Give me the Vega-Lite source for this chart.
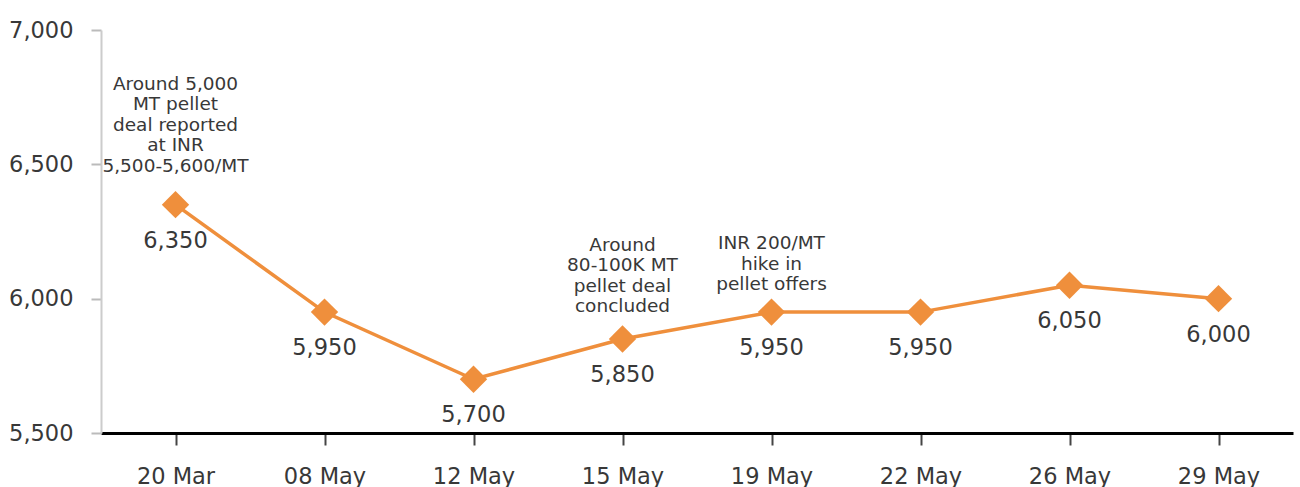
{
  "$schema": "https://vega.github.io/schema/vega-lite/v6.json",
  "autosize": "none",
  "width": 1192,
  "height": 403,
  "padding": {"left": 101, "top": 30, "right": 7, "bottom": 54},
  "background": "white",
  "config": {"view": {"stroke": null}, "font": "DejaVu Sans"},
  "data": {
    "values": [
      {"date": "20 Mar", "price": 6350, "note": "Around 5,000\nMT pellet\ndeal reported\nat INR\n5,500-5,600/MT"},
      {"date": "08 May", "price": 5950, "note": ""},
      {"date": "12 May", "price": 5700, "note": ""},
      {"date": "15 May", "price": 5850, "note": "Around\n80-100K MT\npellet deal\nconcluded"},
      {"date": "19 May", "price": 5950, "note": "INR 200/MT\nhike in\npellet offers"},
      {"date": "22 May", "price": 5950, "note": ""},
      {"date": "26 May", "price": 6050, "note": ""},
      {"date": "29 May", "price": 6000, "note": ""}
    ]
  },
  "encoding": {
    "x": {
      "field": "date",
      "type": "ordinal",
      "sort": null,
      "scale": {"type": "point", "padding": 0.5},
      "axis": {
        "title": null,
        "labelAngle": 0,
        "domainColor": "black",
        "domainWidth": 3,
        "tickColor": "#444",
        "tickWidth": 2,
        "tickSize": 12,
        "labelFontSize": 22.5,
        "labelColor": "#383838",
        "labelPadding": 20
      }
    },
    "y": {
      "field": "price",
      "type": "quantitative",
      "scale": {"domain": [5500, 7000], "nice": false, "zero": false},
      "axis": {
        "title": null,
        "grid": false,
        "values": [5500, 6000, 6500, 7000],
        "format": ",.0f",
        "domainColor": "#cccccc",
        "domainWidth": 2,
        "tickColor": "#bbbbbb",
        "tickWidth": 2,
        "tickSize": 10,
        "labelFontSize": 22.5,
        "labelColor": "#383838",
        "labelPadding": 18
      }
    }
  },
  "layer": [
    {"mark": {"type": "line", "color": "#EF8F3C", "strokeWidth": 3.5}},
    {"mark": {"type": "point", "shape": "diamond", "filled": true, "size": 750, "color": "#EF8F3C", "opacity": 1}},
    {
      "mark": {"type": "text", "dy": 36, "fontSize": 22.5, "color": "#383838", "baseline": "middle"},
      "encoding": {"text": {"field": "price", "type": "quantitative", "format": ",.0f"}}
    },
    {
      "transform": [{"filter": "datum.date == '20 Mar'"}],
      "mark": {"type": "text", "dy": -115, "fontSize": 18.5, "lineHeight": 20.5, "lineBreak": "\n", "color": "#383838", "baseline": "alphabetic"},
      "encoding": {"text": {"field": "note"}}
    },
    {
      "transform": [{"filter": "datum.date == '15 May'"}],
      "mark": {"type": "text", "dy": -88, "fontSize": 18.5, "lineHeight": 20.5, "lineBreak": "\n", "color": "#383838", "baseline": "alphabetic"},
      "encoding": {"text": {"field": "note"}}
    },
    {
      "transform": [{"filter": "datum.date == '19 May'"}],
      "mark": {"type": "text", "dy": -63, "fontSize": 18.5, "lineHeight": 20.5, "lineBreak": "\n", "color": "#383838", "baseline": "alphabetic"},
      "encoding": {"text": {"field": "note"}}
    }
  ]
}
